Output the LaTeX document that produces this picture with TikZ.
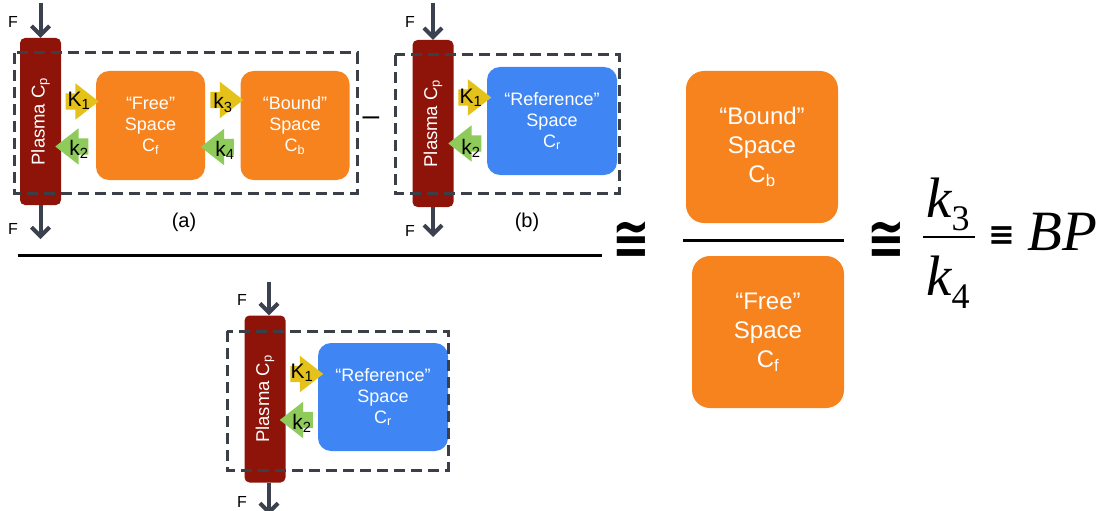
\documentclass[tikz,border=0pt]{standalone}
\usepackage{fontspec}
\setmainfont{Liberation Sans}
\newfontfamily\seriffont{Liberation Serif}
\newfontfamily\symfont{DejaVu Sans}
\usetikzlibrary{arrows.meta,shapes.arrows}
\definecolor{plasmared}{HTML}{8E1409}
\definecolor{boxorange}{HTML}{F7831F}
\definecolor{refblue}{HTML}{3F86F4}
\definecolor{fluxyellow}{HTML}{E5C219}
\definecolor{fluxgreen}{HTML}{8FCB5B}
\definecolor{dashgray}{HTML}{3B3F48}
\definecolor{flowgray}{HTML}{3C4150}
\newcommand\ksub[1]{\raisebox{-13pt}{\fontsize{36}{36}\selectfont\upshape #1}}
\tikzset{
  plasma/.style={fill=plasmared, rounded corners=5pt, minimum width=41pt, minimum height=167pt, inner sep=0pt},
  plasmatext/.style={text=white, rotate=90, inner sep=0pt, font=\fontsize{18.5}{18.5}\selectfont},
  space/.style={rounded corners=13pt, text=white, align=center, inner sep=0pt, font=\fontsize{18}{21}\selectfont},
  freespace/.style={space, fill=boxorange, minimum width=109pt, minimum height=109pt},
  refspace/.style={space, fill=refblue, minimum width=130pt, minimum height=108pt},
  bigspace/.style={space, fill=boxorange, rounded corners=18pt, minimum size=152pt, font=\fontsize{24}{29}\selectfont},
  flux/.style={single arrow, single arrow head extend=10pt, single arrow tip angle=76,
    minimum height=33pt, minimum width=36pt, inner xsep=0pt, inner ysep=8pt},
  influx/.style={flux, fill=fluxyellow},
  outflux/.style={flux, fill=fluxgreen, shape border rotate=180},
  rate/.style={inner sep=0pt, font=\fontsize{21}{21}\selectfont},
  flow/.style={draw=flowgray, line width=4pt, -{Straight Barb[length=9pt,width=18pt]}},
  flowlabel/.style={inner sep=0pt, font=\fontsize{16}{16}\selectfont},
  compartment/.style={draw=dashgray, line width=3pt, dash pattern=on 11pt off 6pt},
  caption/.style={inner sep=0pt, font=\fontsize{20}{20}\selectfont},
  approx/.style={inner sep=0pt, font=\fontsize{45}{45}\symfont\bfseries},
  kfrac/.style={inner sep=0pt, font={\fontsize{57}{57}\seriffont\itshape}}
}
\begin{document}
\begin{tikzpicture}[x=1pt,y=-1pt]
\useasboundingbox (0,0) rectangle (1100,511);

% (a) plasma, free and bound space
\node[plasma] (pla) at (40.5,121.5) {};
\node[plasmatext] (plt-a) at (pla.center) {Plasma C\textsubscript{p}};
\node[freespace] (free-a) at (150.5,125.5) {“Free”\\Space\\C\textsubscript{f}};
\node[freespace] (bound-a) at (295,125.5) {“Bound”\\Space\\C\textsubscript{b}};
\node[influx] (K1-a) at (77,101.5) {};
\node[outflux] (k2-a) at (77,146.5) {};
\node[influx] (k3-a) at (221.5,100) {};
\node[outflux] (k4-a) at (222.5,147) {};
\node[rate] (K1l-a) at (79,101) {K\textsubscript{1}};
\node[rate] (k2l-a) at (79,149) {k\textsubscript{2}};
\node[rate] (k3l-a) at (223,103) {k\textsubscript{3}};
\node[rate] (k4l-a) at (225,150) {k\textsubscript{4}};
\coordinate (in-a) at (40.5,3);
\coordinate (out-a) at (40.5,239);
\draw[flow] (in-a) -- (pla.north);
\draw[flow] (pla.south) -- (out-a);
\node[flowlabel] (Fin-a) at (13,22) {F};
\node[flowlabel] (Fout-a) at (13,229) {F};
\draw[compartment] (14,53) rectangle (357,193);
\node[caption] (cap-a) at (184,222) {(a)};

\node[caption, font=\fontsize{30}{30}\selectfont] (minus) at (371,121) {–};

% (b) plasma and reference space
\node[plasma] (plb) at (433,123.5) {};
\node[plasmatext] (plt-b) at (plb.center) {Plasma C\textsubscript{p}};
\node[refspace] (ref-b) at (552,121) {“Reference”\\Space\\C\textsubscript{r}};
\node[influx] (K1-b) at (469.5,97.5) {};
\node[outflux] (k2-b) at (470,143.5) {};
\node[rate] (K1l-b) at (471,98) {K\textsubscript{1}};
\node[rate] (k2l-b) at (471,148) {k\textsubscript{2}};
\coordinate (in-b) at (433,3);
\coordinate (out-b) at (433,237);
\draw[flow] (in-b) -- (plb.north);
\draw[flow] (plb.south) -- (out-b);
\node[flowlabel] (Fin-b) at (410,22) {F};
\node[flowlabel] (Fout-b) at (410,231) {F};
\draw[compartment] (395,55) rectangle (619,193);
\node[caption] (cap-b) at (527,222) {(b)};

\draw[line width=3pt] (18,255) -- (602,255);

% reference region below the line
\node[plasma] (plc) at (265,399) {};
\node[plasmatext] (plt-c) at (plc.center) {Plasma C\textsubscript{p}};
\node[refspace] (ref-c) at (383,397) {“Reference”\\Space\\C\textsubscript{r}};
\node[influx] (K1-c) at (301.5,374) {};
\node[outflux] (k2-c) at (301.5,420) {};
\node[rate] (K1l-c) at (302,373) {K\textsubscript{1}};
\node[rate] (k2l-c) at (302,423) {k\textsubscript{2}};
\coordinate (in-c) at (269,282);
\coordinate (out-c) at (269,515);
\draw[flow] (in-c) -- (in-c |- plc.north);
\draw[flow] (in-c |- plc.south) -- (out-c);
\node[flowlabel] (Fin-c) at (242,300) {F};
\node[flowlabel] (Fout-c) at (242,502) {F};
\draw[compartment] (227,331) rectangle (448,470);

% right hand side
\node[approx] (cong1) at (631,240) {\scalebox{1}[1.3]{≅}};
\node[bigspace] (bound) at (762,147) {“Bound”\\Space\\C\textsubscript{b}};
\node[bigspace] (free) at (768,332) {“Free”\\Space\\C\textsubscript{f}};
\draw[line width=3pt] (683,240) -- (844,240);
\node[approx] (cong2) at (886,240) {\scalebox{1}[1.3]{≅}};
\node[kfrac, anchor=base west] (k3) at (926,217) {k\ksub{3}};
\node[kfrac, anchor=base west] (k4) at (926,295) {k\ksub{4}};
\draw[line width=2pt] (923,237) -- (975,237);
\node[inner sep=0pt, font=\fontsize{32}{32}\symfont\bfseries] (equiv) at (1002,236) {≡};
\node[kfrac, anchor=base west] (bp) at (1027,250) {BP};
\end{tikzpicture}
\end{document}
